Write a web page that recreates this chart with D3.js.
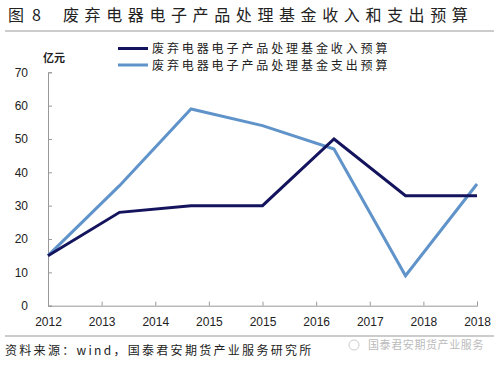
<!DOCTYPE html>
<html><head><meta charset="utf-8">
<script src="https://cdn.jsdelivr.net/npm/d3@7"></script>
<style>body{margin:0;background:#fff}svg{display:block}</style>
</head><body>
<svg id="c" width="500" height="366"></svg>
<script>
const tickLabels = ["2012","2013","2014","2015","2015","2016","2017","2018","2018"];
const pointYears = ["2012","2013","2014","2015","2016","2017","2018"];
const incomeValues = [15, 28, 30, 30, 50, 33, 33];
const expenseValues = [15, 36, 59, 54, 47, 9, 36.5];
const seriesNames = ["废弃电器电子产品处理基金收入预算","废弃电器电子产品处理基金支出预算"];
const seriesColors = ["#14145e","#5f93c9"];
const yTicks = [0,10,20,30,40,50,60,70];

(function(){
const svg = d3.select("#c");
const cjk = "'Noto Sans CJK SC', sans-serif";
const pLeft = 48, pRight = 477, pTop = 72.3, pBottom = 305.7;

// title
svg.append("text").attr("x",8).attr("y",21).attr("font-family",cjk).attr("font-size",16)
  .attr("fill","#222").text("图");
svg.append("text").attr("x",32).attr("y",21).attr("font-family",cjk).attr("font-size",16)
  .attr("fill","#222").text("8");
svg.append("text").attr("x",63).attr("y",21).attr("font-family",cjk).attr("font-size",16)
  .attr("letter-spacing",5.6).attr("fill","#222").text("废弃电器电子产品处理基金收入和支出预算");
svg.append("line").attr("x1",5).attr("x2",494).attr("y1",31).attr("y2",31).attr("stroke","#999").attr("stroke-width",1);

const y = d3.scaleLinear().domain([0,70]).range([pBottom, pTop]);
const xt = d3.scalePoint().domain(d3.range(tickLabels.length)).range([pLeft, pRight]);
const xp = d3.scalePoint().domain(pointYears).range([pLeft, pRight]);

// y axis
const ya = svg.append("g").attr("transform",`translate(${pLeft},0)`)
  .call(d3.axisLeft(y).tickValues(yTicks).tickSize(-4).tickPadding(20));
ya.select(".domain").attr("stroke","#999");
ya.selectAll(".tick line").attr("stroke","#999");
ya.selectAll(".tick text").attr("font-family","Arial, 'Liberation Sans', sans-serif").attr("font-size",12).attr("fill","#222");

// x axis
const xa = svg.append("g").attr("transform",`translate(0,${pBottom})`)
  .call(d3.axisBottom(xt).tickFormat(i=>tickLabels[i]).tickSize(-4).tickPadding(12));
xa.select(".domain").attr("stroke","#999");
xa.selectAll(".tick line").attr("stroke","#999");
xa.selectAll(".tick text").attr("font-family","Arial, 'Liberation Sans', sans-serif").attr("font-size",12).attr("fill","#222");

// unit label
svg.append("text").attr("x",43).attr("y",62).attr("font-family",cjk).attr("font-size",11)
  .attr("font-weight","bold").attr("fill","#222").text("亿元");

// lines
const line = d3.line().x((d,i)=>xp(pointYears[i])).y(d=>y(d));
[[expenseValues,1],[incomeValues,0]].forEach(([vals,idx])=>{
  svg.append("path").datum(vals).attr("d",line).attr("fill","none")
    .attr("stroke",seriesColors[idx]).attr("stroke-width",3).attr("stroke-linejoin","miter");
});

// legend
seriesNames.forEach((n,i)=>{
  const ly = 48.5 + i*16.5;
  svg.append("line").attr("x1",118).attr("x2",148).attr("y1",ly).attr("y2",ly)
    .attr("stroke",seriesColors[i]).attr("stroke-width",3);
  svg.append("text").attr("x",152).attr("y",ly+4.5).attr("font-family",cjk).attr("font-size",12)
    .attr("letter-spacing",2.9).attr("fill","#222").text(n);
});

// bottom
svg.append("line").attr("x1",5).attr("x2",494).attr("y1",336).attr("y2",336).attr("stroke","#999").attr("stroke-width",1);
svg.append("text").attr("x",5).attr("y",355).attr("font-family",cjk).attr("font-size",12)
  .attr("letter-spacing",2.3).attr("fill","#222").text("资料来源：wind，国泰君安期货产业服务研究所");
svg.append("text").attr("x",368).attr("y",349).attr("font-family",cjk).attr("font-size",11)
  .attr("letter-spacing",0.6).attr("fill","#bbb").text("国泰君安期货产业服务");
svg.append("circle").attr("cx",354).attr("cy",345).attr("r",5).attr("fill","none").attr("stroke","#ccc");
})();
</script>
</body></html>
